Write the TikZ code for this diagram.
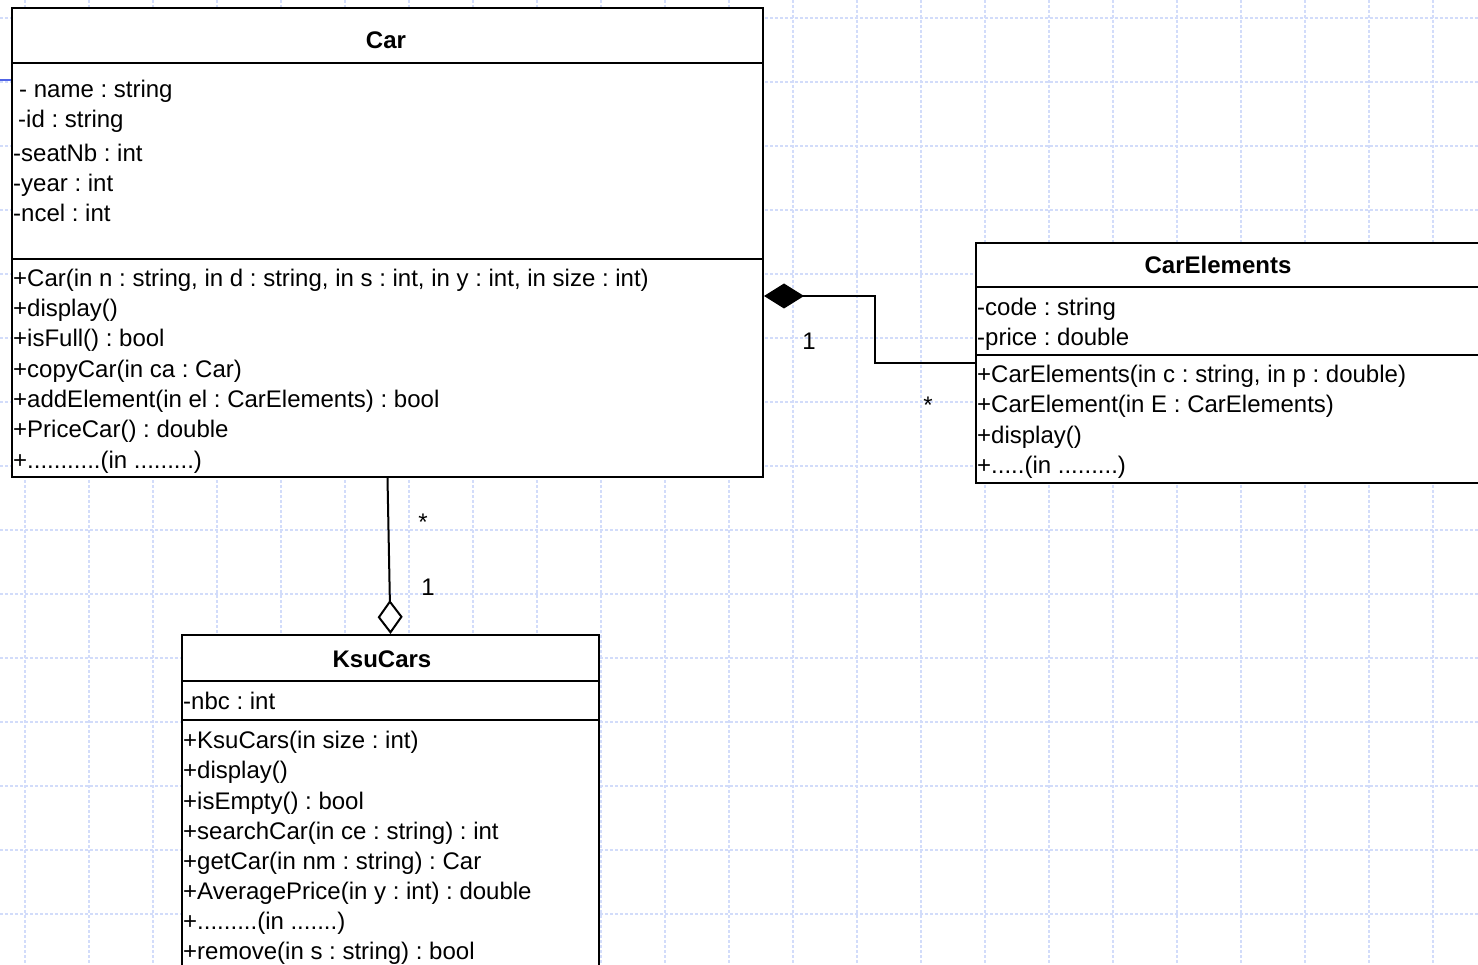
\documentclass[tikz,border=0pt]{standalone}
\usepackage{fontspec}
\setmainfont{Liberation Sans}
\usetikzlibrary{arrows.meta,calc}
\frenchspacing
\begin{document}
\frenchspacing
\begin{tikzpicture}[x=1pt,y=-1pt,
  box/.style={draw=black, line width=2pt, fill=white, inner sep=0pt, anchor=north west},
  divider/.style={draw=black, line width=2pt},
  txt/.style={anchor=base west, inner sep=0pt, font=\fontsize{24}{29}\selectfont\frenchspacing},
  ttl/.style={anchor=base, inner sep=0pt, font=\fontsize{24}{29}\selectfont\bfseries},
  lbl/.style={inner sep=0pt, font=\fontsize{24}{29}\selectfont},
  gridline/.style={draw={rgb,255:red,210;green,220;blue,250}, line width=1.6pt, dash pattern=on 3pt off 2pt},
  comp/.style={draw=black, line width=2pt, {Diamond[length=40pt,width=25pt]}-},
  agg/.style={draw=black, line width=2pt, {Diamond[open,fill=white,length=34pt,width=25pt]}-}]
\path[use as bounding box, clip] (0,0) rectangle (1478,965);
\fill[white] (0,0) rectangle (1478,965);
% background grid
\foreach \x in {25,89,...,1457} \draw[gridline] (\x,0) -- (\x,965);
\foreach \y in {18,82,...,914} \draw[gridline] (0,\y) -- (1478,\y);
\draw[draw={rgb,255:red,80;green,100;blue,230}, line width=2pt] (0,80) -- (11,80);

% Car
\node[box, minimum width=751pt, minimum height=469pt] (car) at (11,7) {};
\draw[divider] (11,63) -- (762,63);
\draw[divider] (11,259) -- (762,259);
\node[ttl] (cart) at (386,49) {Car};
\node[txt] (ca1) at (19,98) {- name : string};
\node[txt] (ca2) at (18,128) {-id : string};
\node[txt] (ca3) at (13,162) {-seatNb : int};
\node[txt] (ca4) at (13,192) {-year : int};
\node[txt] (ca5) at (13,222) {-ncel : int};
\node[txt] (cm1) at (13,287) {+Car(in n : string, in d : string, in s : int, in y : int, in size : int)};
\node[txt] (cm2) at (13,317) {+display()};
\node[txt] (cm3) at (13,347) {+isFull() : bool};
\node[txt] (cm4) at (13,378) {+copyCar(in ca : Car)};
\node[txt] (cm5) at (13,408) {+addElement(in el : CarElements) : bool};
\node[txt] (cm6) at (13,438) {+PriceCar() : double};
\node[txt] (cm7) at (13,468) {+...........(in .........)};

% CarElements
\node[box, minimum width=520pt, minimum height=240pt] (ce) at (975,242) {};
\draw[divider] (975,287) -- (1490,287);
\draw[divider] (975,355) -- (1490,355);
\node[ttl] (cet) at (1218,274) {CarElements};
\node[txt] (ea1) at (977,316) {-code : string};
\node[txt] (ea2) at (977,346) {-price : double};
\node[txt] (em1) at (977,383) {+CarElements(in c : string, in p : double)};
\node[txt] (em2) at (977,413) {+CarElement(in E : CarElements)};
\node[txt] (em3) at (977,443) {+display()};
\node[txt] (em4) at (977,473) {+.....(in .........)};

% KsuCars
\node[box, minimum width=417pt, minimum height=360pt] (ksu) at (181,634) {};
\draw[divider] (181,681) -- (598,681);
\draw[divider] (181,720) -- (598,720);
\node[ttl] (kt) at (382,667) {KsuCars};
\node[txt] (ka1) at (183,709) {-nbc : int};
\node[txt] (km1) at (183,748) {+KsuCars(in size : int)};
\node[txt] (km2) at (183,778) {+display()};
\node[txt] (km3) at (183,809) {+isEmpty() : bool};
\node[txt] (km4) at (183,839) {+searchCar(in ce : string) : int};
\node[txt] (km5) at (183,869) {+getCar(in nm : string) : Car};
\node[txt] (km6) at (183,899) {+AveragePrice(in y : int) : double};
\node[txt] (km7) at (183,929) {+.........(in .......)};
\node[txt] (km8) at (183,959) {+remove(in s : string) : bool};

% composition Car <>-- CarElements
\coordinate (cstart) at ($(car.north east)+(0,289)$);
\coordinate (cbend) at (875,296);
\draw[comp] (cstart) -- (cbend) |- (ce.west);
\node[lbl] (m1) at (809,341) {1};
\node[lbl] (m2) at (928,405) {*};

% aggregation KsuCars <>-- Car
\draw[agg] (ksu.north) -- (car.south);
\node[lbl] (m3) at (423,522) {*};
\node[lbl] (m4) at (428,587) {1};
\end{tikzpicture}
\end{document}
